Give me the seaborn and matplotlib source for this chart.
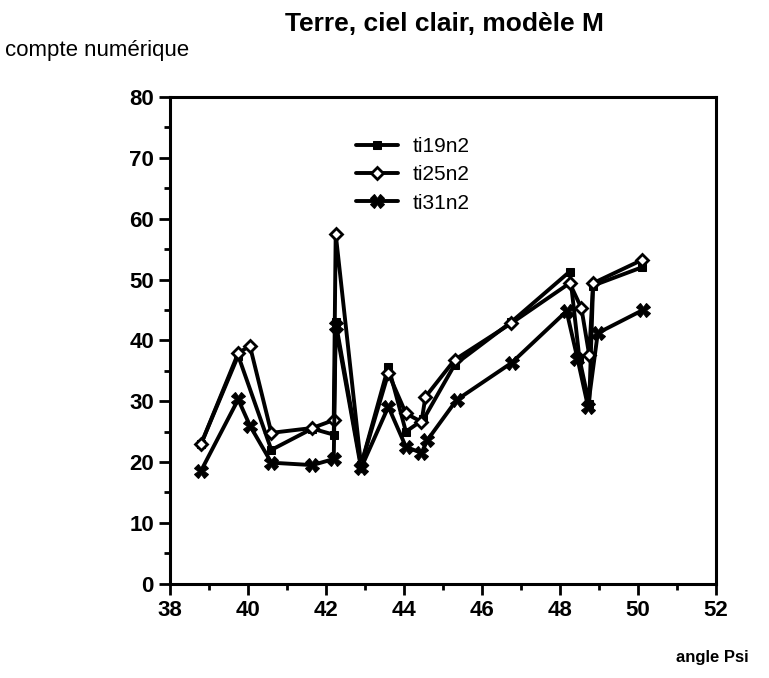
import matplotlib
matplotlib.use("Agg")
import matplotlib.pyplot as plt
import seaborn as sns
import pandas as pd
from matplotlib.ticker import MultipleLocator

# valeurs
x19 = [38.8, 39.75, 40.6, 41.65, 42.2, 42.25, 42.9, 43.6, 44.05, 44.5, 45.3, 46.75, 48.25, 48.5, 48.75, 48.85, 50.1]
y19 = [23, 37.5, 22, 25.5, 24.5, 43, 19.5, 35.7, 25, 27, 36, 43, 51.3, 37, 29.5, 49, 52]

x25 = [38.8, 39.75, 40.05, 40.6, 41.65, 42.2, 42.25, 42.9, 43.6, 44.05, 44.45, 44.55, 45.3, 46.75, 48.25, 48.55, 48.75, 48.85, 50.1]
y25 = [23, 37.9, 39.1, 24.8, 25.6, 26.9, 57.5, 19.5, 34.6, 28, 26.6, 30.7, 36.8, 42.8, 49.4, 45.3, 37.6, 49.4, 53.2]

x31 = [38.8, 39.75, 40.05, 40.6, 41.65, 42.2, 42.25, 42.9, 43.6, 44.05, 44.45, 44.6, 45.35, 46.76, 48.17, 48.45, 48.72, 48.97, 50.13]
y31 = [18.6, 30.3, 26, 19.9, 19.5, 20.5, 42.3, 19, 29.1, 22.5, 21.5, 23.6, 30.2, 36.3, 44.8, 37, 29.1, 41.2, 45]

series = ["ti19n2", "ti25n2", "ti31n2"]
xticks = [38, 40, 42, 44, 46, 48, 50, 52]
yticks = [0, 10, 20, 30, 40, 50, 60, 70, 80]

sns.set_style("ticks")
plt.rcParams["font.family"] = ["Liberation Sans", "DejaVu Sans"]
plt.rcParams.update({"text.color": "black", "xtick.color": "black",
                     "ytick.color": "black", "axes.labelcolor": "black"})

fig = plt.figure(figsize=(7.69, 6.78), dpi=100)
ax = fig.add_axes([0.221, 0.139, 0.710, 0.718])

styles = {
    "ti19n2": dict(marker="s", markersize=6, markerfacecolor="black"),
    "ti25n2": dict(marker="D", markersize=6.5, markerfacecolor="white", markeredgewidth=2),
    "ti31n2": dict(marker="X", markersize=10, markerfacecolor="black"),
}
for name, xs, ys in zip(series, [x19, x25, x31], [y19, y25, y31]):
    df = pd.DataFrame({"x": xs, "y": ys})
    sns.lineplot(data=df, x="x", y="y", sort=False, estimator=None, color="black",
                 linewidth=2.8, markeredgecolor="black", label=name, ax=ax, **styles[name])

ax.set_xlim(38, 52)
ax.set_ylim(0, 80)
ax.set_xticks(xticks)
ax.set_yticks(yticks)
ax.xaxis.set_minor_locator(MultipleLocator(1))
ax.yaxis.set_minor_locator(MultipleLocator(5))
ax.tick_params(which="major", length=8, width=2, labelsize=16, direction="out",
               color="black", labelcolor="black")
ax.tick_params(which="minor", length=4, width=2, direction="out", color="black")
for lab in ax.get_xticklabels() + ax.get_yticklabels():
    lab.set_fontweight("bold")
for s in ax.spines.values():
    s.set_linewidth(2.2)
    s.set_color("black")
    s.set_visible(True)
ax.set_xlabel("")
ax.set_ylabel("")

leg = ax.legend(loc="center", bbox_to_anchor=(0.445, 0.84), frameon=False, fontsize=15,
                handlelength=2.0, labelspacing=0.45, handletextpad=0.7)
for t in leg.get_texts():
    t.set_color("black")

fig.text(0.578, 0.965, "Terre, ciel clair, modèle M", ha="center", va="center",
         fontsize=19, fontweight="bold", color="black")
fig.text(0.006, 0.926, "compte numérique", ha="left", va="center", fontsize=16, color="black")
fig.text(0.973, 0.03, "angle Psi", ha="right", va="center", fontsize=12,
         fontweight="bold", color="black")

fig.savefig("out.png", dpi=100)
